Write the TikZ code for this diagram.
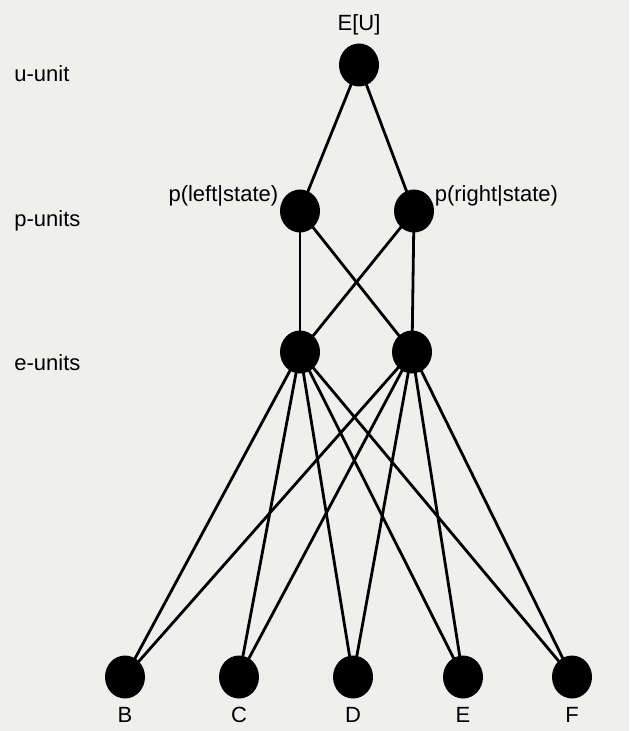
\documentclass[tikz,border=0pt]{standalone}
\usepackage{fontspec}
\setmainfont{Liberation Sans}
\usetikzlibrary{shapes.geometric,positioning}
\definecolor{paper}{RGB}{239,239,237}
\pgfdeclarelayer{background}
\pgfsetlayers{background,main}

\begin{document}
\begin{tikzpicture}[x=0.5pt,y=-0.5pt,
   unit/.style={ellipse,fill=black,draw=none,inner sep=0pt,minimum width=20pt,minimum height=21.5pt},
   lbl/.style={inner sep=0pt,font=\fontsize{11}{13}\selectfont},
   link/.style={line width=1.4pt,shorten <=-1.5pt,shorten >=-1.5pt}]
   \fill[paper] (0,0) rectangle (629,731);
   \useasboundingbox (0,0) rectangle (629,731);
   % units
   \node [unit] (EU) at (359,65) {};
   \node [unit] (pl) at (300,211) {};
   \node [unit] (pr) at (414,211) {};
   \node [unit] (el) at (300,352) {};
   \node [unit] (er) at (412,352) {};
   \node [unit] (B) at (125,677) {};
   \node [unit] (C) at (239,677) {};
   \node [unit] (D) at (353,677) {};
   \node [unit] (E) at (463,677) {};
   \node [unit] (F) at (572,677) {};
   % labels
   \node [lbl,above=4pt of EU] (EUtxt) {E[U]};
   \node [lbl,left=3.5pt of pl.north west] (pltxt) {p(left|state)};
   \node [lbl,right=3pt of pr.north east] (prtxt) {p(right|state)};
   \node [lbl,below=4pt of B] (Btxt) {B};
   \node [lbl,below=4pt of C] (Ctxt) {C};
   \node [lbl,below=4pt of D] (Dtxt) {D};
   \node [lbl,below=4pt of E] (Etxt) {E};
   \node [lbl,below=4pt of F] (Ftxt) {F};
   \node [lbl,anchor=base west] (uunit) at (14,82) {u-unit};
   \node [lbl,anchor=base west] (punits) at (14,227) {p-units};
   \node [lbl,anchor=base west] (eunits) at (14,370) {e-units};
   \path[link]
   (EU) edge (pl)
   (EU) edge (pr)
   (pl) edge (el)
   (pl) edge (er)
   (pr) edge (el)
   (pr) edge (er)
   (el) edge (B)
   (el) edge (C)
   (el) edge (D)
   (el) edge (E)
   (el) edge (F)
   (er) edge (B)
   (er) edge (C)
   (er) edge (D)
   (er) edge (E)
   (er) edge (F);
\end{tikzpicture}
\end{document}
